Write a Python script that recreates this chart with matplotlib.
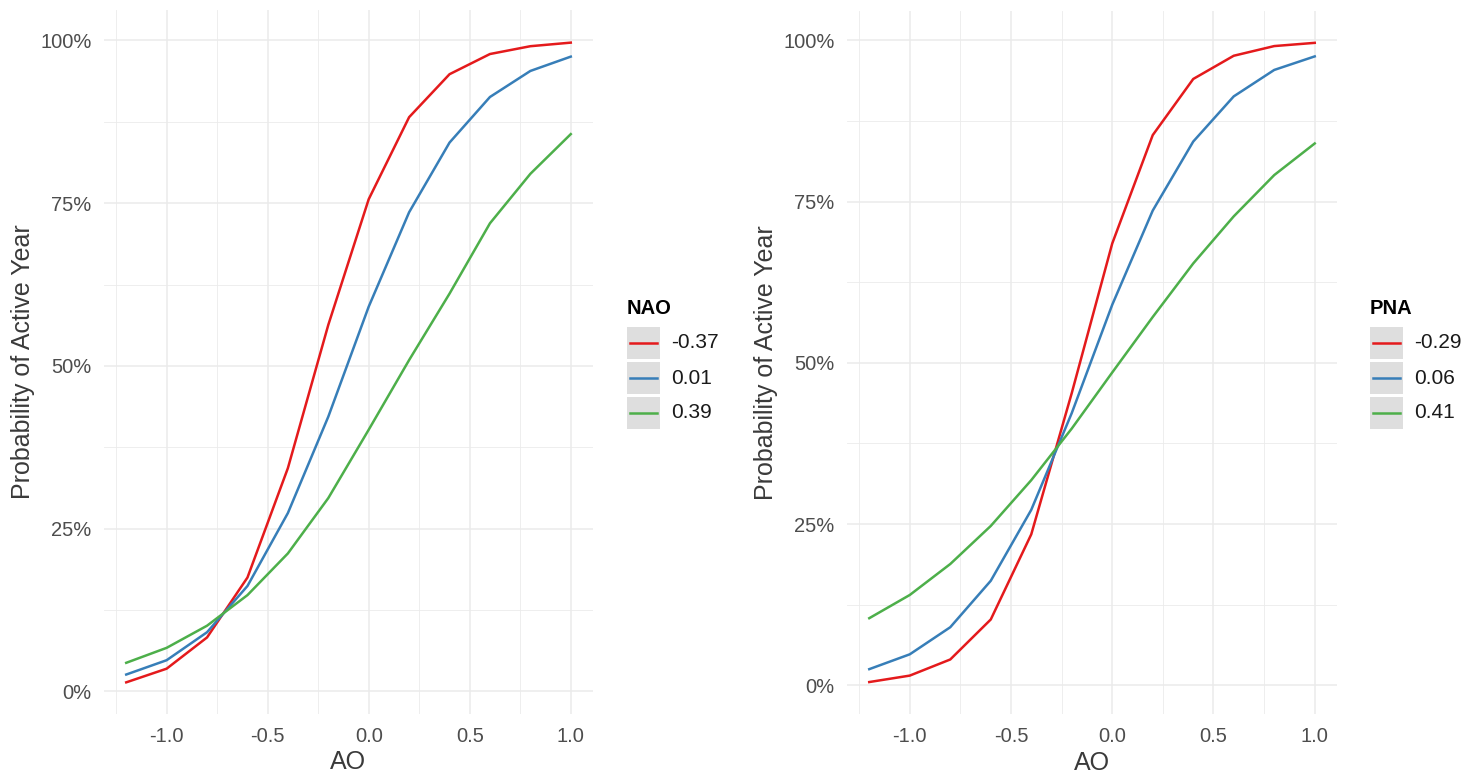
import numpy as np
import matplotlib
matplotlib.use("Agg")
import matplotlib.pyplot as plt
from matplotlib.patches import Rectangle
from matplotlib.lines import Line2D
from matplotlib.ticker import FixedLocator, FuncFormatter

plt.rcParams['font.family'] = ['Liberation Sans', 'DejaVu Sans']

ao = [-1.2, -1.0, -0.8, -0.6, -0.4, -0.2, 0.0, 0.2, 0.4, 0.6, 0.8, 1.0]

nao_levels = ['-0.37', '0.01', '0.39']
nao_low = [0.014, 0.035, 0.083, 0.175, 0.343, 0.563, 0.756, 0.882, 0.948, 0.979, 0.991, 0.9965]
nao_mid = [0.026, 0.048, 0.091, 0.162, 0.274, 0.422, 0.591, 0.736, 0.843, 0.913, 0.953, 0.975]
nao_high = [0.044, 0.067, 0.101, 0.148, 0.212, 0.297, 0.402, 0.509, 0.611, 0.719, 0.795, 0.856]

pna_levels = ['-0.29', '0.06', '0.41']
pna_low = [0.005, 0.015, 0.040, 0.102, 0.234, 0.453, 0.685, 0.853, 0.940, 0.976, 0.991, 0.996]
pna_mid = [0.025, 0.048, 0.090, 0.162, 0.272, 0.422, 0.590, 0.736, 0.843, 0.913, 0.954, 0.975]
pna_high = [0.104, 0.140, 0.188, 0.247, 0.318, 0.398, 0.485, 0.571, 0.654, 0.727, 0.791, 0.840]

colors = ['#E41A1C', '#377EB8', '#4DAF4A']

W, H = 1467, 772
fig = plt.figure(figsize=(W / 100, H / 100), dpi=100)


def fx(px):
    return px / W


def fy(py):
    return 1 - py / H


def style_axes(ax):
    for s in ax.spines.values():
        s.set_visible(False)
    ax.set_xlim(-1.31, 1.11)
    ax.xaxis.set_major_locator(FixedLocator([-1.0, -0.5, 0.0, 0.5, 1.0]))
    ax.xaxis.set_minor_locator(FixedLocator([-1.25, -0.75, -0.25, 0.25, 0.75]))
    ax.yaxis.set_major_locator(FixedLocator([0, 0.25, 0.5, 0.75, 1.0]))
    ax.yaxis.set_minor_locator(FixedLocator([0.125, 0.375, 0.625, 0.875]))
    ax.xaxis.set_major_formatter(FuncFormatter(lambda v, p: f"{v:.1f}"))
    ax.yaxis.set_major_formatter(FuncFormatter(lambda v, p: f"{v * 100:.0f}%"))
    ax.grid(which='major', color='#EBEBEB', lw=1.1)
    ax.grid(which='minor', color='#EBEBEB', lw=0.6)
    ax.set_axisbelow(True)
    ax.tick_params(which='both', length=0, labelsize=14.5, labelcolor='#4D4D4D')
    ax.tick_params(axis='y', pad=9)
    ax.tick_params(axis='x', pad=9.5)
    ax.set_xlabel('AO', fontsize=18, color='#3A3A3A', labelpad=3)
    ax.set_ylabel('Probability of Active Year', fontsize=18, color='#3A3A3A', labelpad=4)


def draw_legend(x0, title, labels):
    fig.text(fx(x0), fy(308), title, fontsize=14.5, fontweight='bold',
             va='center', ha='left', color='black')
    for i, (lab, c) in enumerate(zip(labels, colors)):
        top = 327 + i * 35
        fig.add_artist(Rectangle((fx(x0), fy(top + 32)), fx(33), 32 / H,
                                 transform=fig.transFigure, color='#DEDEDE', lw=0))
        fig.add_artist(Line2D([fx(x0 + 3), fx(x0 + 30)], [fy(top + 16)] * 2,
                              transform=fig.transFigure, color=c, lw=1.8))
        fig.text(fx(x0 + 44), fy(top + 16), lab, fontsize=15, va='center',
                 ha='left', color='#1A1A1A')


ax1 = fig.add_axes([fx(104), fy(713.6), fx(593 - 104), (713.6 - 10.4) / H])
for ys, c in zip([nao_low, nao_mid, nao_high], colors):
    ax1.plot(ao, ys, color=c, lw=1.8)
ax1.set_ylim(-0.034, 1.046)
style_axes(ax1)
draw_legend(627, 'NAO', nao_levels)

ax2 = fig.add_axes([fx(847), fy(714.3), fx(1337 - 847), (714.3 - 10.6) / H])
for ys, c in zip([pna_low, pna_mid, pna_high], colors):
    ax2.plot(ao, ys, color=c, lw=1.8)
ax2.set_ylim(-0.045, 1.046)
style_axes(ax2)
draw_legend(1370, 'PNA', pna_levels)

fig.savefig('out.png', dpi=100, facecolor='white')
